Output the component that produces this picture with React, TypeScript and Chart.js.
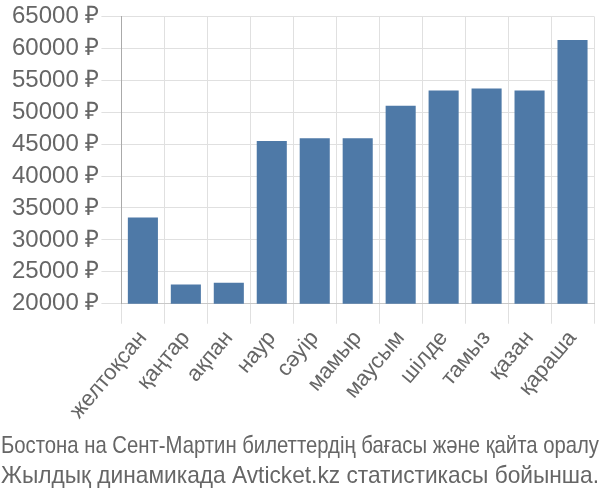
import React, { useEffect, useRef } from "react";
import { Chart, registerables } from "chart.js";

Chart.register(...registerables);

const categories = ["желтоқсан", "қаңтар", "ақпан", "наур", "сәуір", "мамыр", "маусым", "шілде", "тамыз", "қазан", "қараша"];
const prices = [33500, 23000, 23300, 45500, 45900, 45900, 51000, 53400, 53700, 53400, 61300];
const yMin = 20000;
const yMax = 65000;
const yStep = 5000;
const currency = "₽";
const captionLines = [
  "Бостона на Сент-Мартин билеттердің бағасы және қайта оралу",
  "Жылдық динамикада Avticket.kz статистикасы бойынша.",
];

const captionPlugin = {
  id: "caption",
  afterDraw(chart: any) {
    const ctx = chart.ctx as CanvasRenderingContext2D;
    ctx.save();
    ctx.font = "24px 'Liberation Sans', Arial, sans-serif";
    ctx.fillStyle = "#666";
    ctx.textAlign = "left";
    ctx.textBaseline = "alphabetic";
    const baselines = [453, 483];
    captionLines.forEach((line, i) => {
      ctx.fillText(line, 1, baselines[i], 598);
    });
    ctx.restore();
  },
};

export default function App() {
  const ref = useRef<HTMLCanvasElement | null>(null);
  useEffect(() => {
    if (!ref.current) return;
    const chart = new Chart(ref.current, {
      type: "bar",
      data: {
        labels: categories,
        datasets: [
          {
            data: prices,
            backgroundColor: "#4e79a7",
            borderColor: "#4e79a7",
            borderWidth: 0,
            categoryPercentage: 0.7,
            barPercentage: 1,
          },
        ],
      },
      options: {
        animation: false,
        responsive: false,
        maintainAspectRatio: false,
        layout: { padding: { left: 10, right: 6, top: 0, bottom: 74 } },
        plugins: { legend: { display: false }, tooltip: { enabled: false }, title: { display: false } },
        scales: {
          x: {
            grid: { color: "#e0e0e0", lineWidth: 1, tickLength: 20, offset: true },
            border: { color: "#c8c8c8" },
            ticks: {
              color: "#666",
              font: { family: "'Liberation Sans', Arial, sans-serif", size: 22 },
              minRotation: 50,
              maxRotation: 50,
              padding: 2,
              autoSkip: false,
            },
          },
          y: {
            min: yMin,
            max: yMax,
            grid: { color: "#e0e0e0", lineWidth: 1, tickLength: 20 },
            border: { color: "#aaaaaa" },
            ticks: {
              stepSize: yStep,
              color: "#666",
              font: { family: "'Liberation Sans', Arial, sans-serif", size: 24 },
              padding: 2,
              callback: (v: any) => `${v} ${currency}`,
            },
          },
        },
      },
      plugins: [captionPlugin],
    });
    return () => chart.destroy();
  }, []);
  return (
    <div style={{ position: "absolute", left: 0, top: 0, width: 600, height: 500, background: "#fff", overflow: "hidden" }}>
      <canvas ref={ref} width={600} height={500} style={{ display: "block", width: 600, height: 500 }} />
    </div>
  );
}
